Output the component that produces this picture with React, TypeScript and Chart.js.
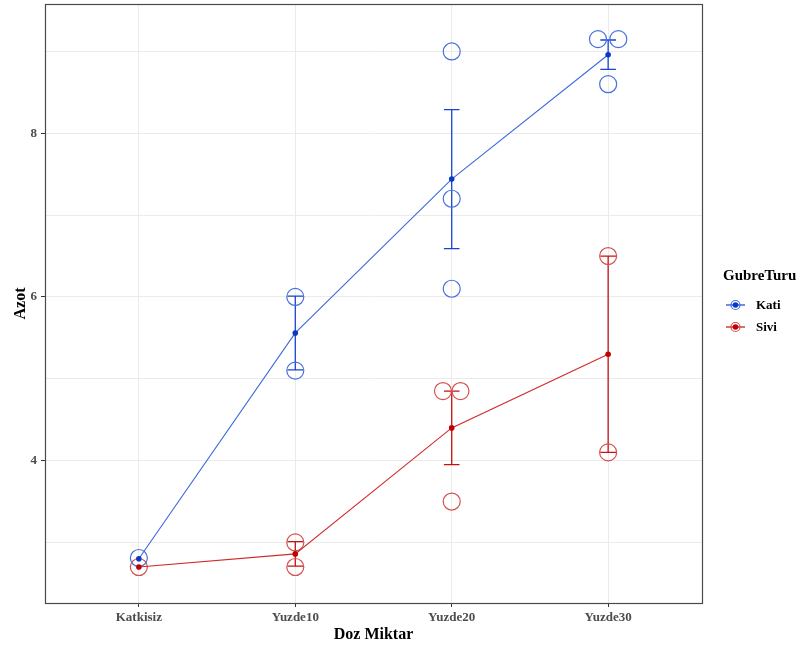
import React, { useEffect, useRef } from 'react';
import { Chart, registerables } from 'chart.js';

Chart.register(...registerables);

const categories = ['Katkisiz', 'Yuzde10', 'Yuzde20', 'Yuzde30'];
const seriesNames = ['Kati', 'Sivi'];
const legendTitle = 'GubreTuru';
const xTitle = 'Doz Miktar';
const yTitle = 'Azot';

const katiMean = [2.8, 5.56, 7.44, 8.96];
const katiErr = [0, 0.45, 0.85, 0.18];
const siviMean = [2.7, 2.86, 4.4, 5.3];
const siviErr = [0, 0.15, 0.45, 1.2];

const katiRawCat = [0, 1, 1, 2, 2, 2, 3, 3, 3];
const katiRawJitter = [0, 0, 0, 0, 0, 0, -0.065, 0.065, 0];
const katiRawY = [2.81, 6.0, 5.1, 9.0, 7.2, 6.1, 9.15, 9.15, 8.6];

const siviRawCat = [0, 1, 1, 2, 2, 2, 3, 3];
const siviRawJitter = [0, 0, 0, -0.056, 0.056, 0, 0, 0];
const siviRawY = [2.7, 3.0, 2.7, 4.85, 4.85, 3.5, 6.5, 4.1];

const yGridTicks = [3, 4, 5, 6, 7, 8, 9];
const yLabelTicks = [4, 6, 8];
const yMin = 2.26;
const yMax = 9.58;
const xMin = -0.6;
const xMax = 3.6;

const COLORS = {
  kati: { line: '#3d69dc', point: '#0a38c4', circle: '#4670df', err: '#1745d0' },
  sivi: { line: '#d02a2a', point: '#c00000', circle: '#d65050', err: '#c41212' },
};

const FONT = "'Liberation Serif', 'Times New Roman', serif";

const groups = [
  { mean: katiMean, err: katiErr, color: COLORS.kati },
  { mean: siviMean, err: siviErr, color: COLORS.sivi },
];

const errorBarPlugin = {
  id: 'errorBars',
  beforeDatasetsDraw(chart: any) {
    const { ctx, scales } = chart;
    const xs = scales.x;
    const ys = scales.y;
    const capHalf = 0.05;
    ctx.save();
    groups.forEach((g) => {
      ctx.strokeStyle = g.color.err;
      ctx.lineWidth = 1.3;
      g.mean.forEach((m, i) => {
        const e = g.err[i];
        if (!e) return;
        const x = xs.getPixelForValue(i);
        const xl = xs.getPixelForValue(i - capHalf);
        const xr = xs.getPixelForValue(i + capHalf);
        const yt = ys.getPixelForValue(m + e);
        const yb = ys.getPixelForValue(m - e);
        ctx.beginPath();
        ctx.moveTo(x, yt);
        ctx.lineTo(x, yb);
        ctx.moveTo(xl, yt);
        ctx.lineTo(xr, yt);
        ctx.moveTo(xl, yb);
        ctx.lineTo(xr, yb);
        ctx.stroke();
      });
    });
    ctx.restore();
  },
};

const panelPlugin = {
  id: 'panelBorder',
  afterDatasetsDraw(chart: any) {
    const { ctx, chartArea } = chart;
    ctx.save();
    ctx.strokeStyle = '#4a4a4a';
    ctx.lineWidth = 1.2;
    ctx.strokeRect(
      Math.round(chartArea.left) + 0.5,
      Math.round(chartArea.top) + 0.5,
      Math.round(chartArea.right - chartArea.left),
      Math.round(chartArea.bottom - chartArea.top)
    );
    ctx.restore();
  },
};

const legendPlugin = {
  id: 'customLegend',
  afterDraw(chart: any) {
    const { ctx, chartArea } = chart;
    const x0 = chartArea.right + 21;
    ctx.save();
    ctx.fillStyle = '#000';
    ctx.font = `bold 15px ${FONT}`;
    ctx.textAlign = 'left';
    ctx.textBaseline = 'middle';
    ctx.fillText(legendTitle, x0, 276);
    const cols = [COLORS.kati, COLORS.sivi];
    seriesNames.forEach((name, i) => {
      const y = 305 + i * 22;
      const c = cols[i];
      const kx = x0 + 12.5;
      ctx.strokeStyle = c.err;
      ctx.lineWidth = 1.2;
      ctx.beginPath();
      ctx.moveTo(kx - 9.5, y);
      ctx.lineTo(kx + 9.5, y);
      ctx.stroke();
      ctx.strokeStyle = c.circle;
      ctx.beginPath();
      ctx.arc(kx, y, 4.5, 0, Math.PI * 2);
      ctx.stroke();
      ctx.fillStyle = c.point;
      ctx.beginPath();
      ctx.arc(kx, y, 2.8, 0, Math.PI * 2);
      ctx.fill();
      ctx.fillStyle = '#000';
      ctx.font = `bold 13px ${FONT}`;
      ctx.fillText(name, x0 + 33, y + 0.5);
    });
    ctx.restore();
  },
};

export default function App() {
  const ref = useRef<HTMLCanvasElement | null>(null);

  useEffect(() => {
    if (!ref.current) return;
    const meanData = (arr: number[]) => arr.map((y, i) => ({ x: i, y }));
    const rawData = (cats: number[], jit: number[], ys: number[]) =>
      ys.map((y, i) => ({ x: cats[i] + jit[i], y }));

    const chart = new Chart(ref.current, {
      type: 'scatter',
      data: {
        datasets: [
          {
            label: seriesNames[0] + ' mean',
            data: meanData(katiMean),
            showLine: true,
            borderColor: COLORS.kati.line,
            borderWidth: 1.1,
            pointRadius: 2.8,
            pointBackgroundColor: COLORS.kati.point,
            pointBorderColor: COLORS.kati.point,
            pointBorderWidth: 0,
          },
          {
            label: seriesNames[1] + ' mean',
            data: meanData(siviMean),
            showLine: true,
            borderColor: COLORS.sivi.line,
            borderWidth: 1.1,
            pointRadius: 2.8,
            pointBackgroundColor: COLORS.sivi.point,
            pointBorderColor: COLORS.sivi.point,
            pointBorderWidth: 0,
          },
          {
            label: seriesNames[0],
            data: rawData(katiRawCat, katiRawJitter, katiRawY),
            showLine: false,
            pointRadius: 8.5,
            pointBorderWidth: 1.2,
            pointBackgroundColor: 'rgba(0,0,0,0)',
            pointBorderColor: COLORS.kati.circle,
          },
          {
            label: seriesNames[1],
            data: rawData(siviRawCat, siviRawJitter, siviRawY),
            showLine: false,
            pointRadius: 8.5,
            pointBorderWidth: 1.2,
            pointBackgroundColor: 'rgba(0,0,0,0)',
            pointBorderColor: COLORS.sivi.circle,
          },
        ],
      },
      options: {
        animation: false,
        responsive: false,
        maintainAspectRatio: false,
        layout: { autoPadding: false, padding: { top: 4, right: 101, left: 0, bottom: 0 } },
        plugins: {
          legend: { display: false },
          tooltip: { enabled: false },
        },
        scales: {
          x: {
            type: 'linear',
            min: xMin,
            max: xMax,
            afterBuildTicks: (scale: any) => {
              scale.ticks = categories.map((_, i) => ({ value: i }));
            },
            afterFit: (scale: any) => {
              scale.height = 48;
              scale.paddingLeft = 0;
              scale.paddingRight = 0;
            },
            grid: {
              color: '#ebebeb',
              lineWidth: 1,
              tickColor: '#333',
              tickLength: 4,
              tickWidth: 1,
            },
            border: { display: false },
            ticks: {
              padding: 3,
              color: '#4d4d4d',
              font: { family: FONT, size: 13, weight: 'bold' },
              callback: (v: any) => categories[Math.round(Number(v))] ?? '',
              maxRotation: 0,
              autoSkip: false,
            },
            title: {
              display: true,
              text: xTitle,
              color: '#000',
              font: { family: FONT, size: 16, weight: 'bold' },
              padding: { top: 0, bottom: 7 },
            },
          },
          y: {
            type: 'linear',
            min: yMin,
            max: yMax,
            afterBuildTicks: (scale: any) => {
              scale.ticks = yGridTicks.map((v) => ({ value: v }));
            },
            afterFit: (scale: any) => {
              scale.width = 45;
              scale.paddingTop = 0;
              scale.paddingBottom = 0;
            },
            grid: {
              color: '#ebebeb',
              lineWidth: 1,
              tickColor: (ctx: any) =>
                ctx.tick && yLabelTicks.includes(ctx.tick.value) ? '#333' : 'rgba(0,0,0,0)',
              tickLength: 4,
              tickWidth: 1,
            },
            border: { display: false },
            ticks: {
              padding: 4,
              color: '#4d4d4d',
              font: { family: FONT, size: 13, weight: 'bold' },
              callback: (v: any) => (yLabelTicks.includes(Number(v)) ? String(v) : ''),
              autoSkip: false,
            },
            title: {
              display: true,
              text: yTitle,
              color: '#000',
              font: { family: FONT, size: 16, weight: 'bold' },
              padding: { top: 11, bottom: 0 },
            },
          },
        },
      } as any,
      plugins: [errorBarPlugin, panelPlugin, legendPlugin],
    });
    return () => chart.destroy();
  }, []);

  return (
    <div style={{ position: 'fixed', left: 0, top: 0, width: 803, height: 651, background: '#fff' }}>
      <canvas ref={ref} width={803} height={651} style={{ display: 'block' }} />
    </div>
  );
}
